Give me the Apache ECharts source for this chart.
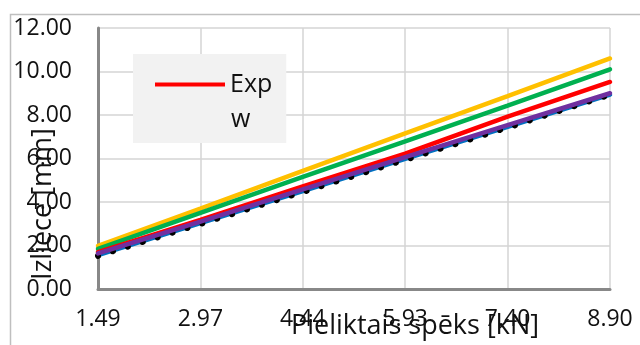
<!DOCTYPE html>
<html>
<head>
<meta charset="utf-8">
<script src="https://cdn.jsdelivr.net/npm/echarts@6/dist/echarts.min.js"></script>
<style>
html,body{margin:0;padding:0;background:#fff;}
#c{width:640px;height:345px;}
</style>
</head>
<body>
<div id="c"></div>
<script>
const categories = ['1.49', '2.97', '4.44', '5.93', '7.40', '8.90'];
const yTicks = [0, 2, 4, 6, 8, 10, 12];
const yellowVals = [1.98, 3.70, 5.43, 7.15, 8.87, 10.60];
const greenVals  = [1.84, 3.50, 5.15, 6.79, 8.43, 10.10];
const redVals    = [1.70, 3.18, 4.72, 6.22, 7.93, 9.52];
const blueVals   = [1.56, 3.03, 4.50, 5.98, 7.46, 8.94];
const blackVals  = [1.52, 2.99, 4.46, 5.94, 7.42, 8.93];
const purpleVals = [1.64, 3.10, 4.58, 6.06, 7.53, 9.00];
const xTitle = 'Pieliktais spēks [kN]';
const yTitle = 'Izliece [mm]';
const legendName = 'Exp';
const legendExtra = 'w';

const FONT = 'Open Sans';
const chart = echarts.init(document.getElementById('c'));
function line(name, data, color, width, z, type) {
  return {
    name, type: 'line', data, symbol: 'none', z,
    lineStyle: { color, width, type: type || 'solid', cap: 'round' },
    itemStyle: { color },
    animation: false
  };
}
chart.setOption({
  animation: false,
  backgroundColor: '#fff',
  grid: { left: 98, right: 30, top: 28, bottom: 56 },
  xAxis: {
    type: 'category', data: categories, boundaryGap: false,
    axisLine: { show: true, lineStyle: { color: '#888', width: 3 } },
    axisTick: { show: false },
    axisLabel: { interval: 0, fontFamily: FONT, fontSize: 23, color: '#111', margin: 19 },
    splitLine: { show: true, lineStyle: { color: '#d4d4d4', width: 1.5 } }
  },
  yAxis: {
    type: 'value', min: yTicks[0], max: yTicks[yTicks.length - 1], interval: 2,
    axisLine: { show: true, lineStyle: { color: '#888', width: 3 } },
    axisTick: { show: false },
    axisLabel: { fontFamily: FONT, fontSize: 23, color: '#111', margin: 26, formatter: v => v.toFixed(2) },
    splitLine: { show: true, lineStyle: { color: '#d4d4d4', width: 1.5 } }
  },
  legend: {
    data: [legendName], left: 133, top: 54,
    backgroundColor: '#f2f2f2',
    padding: [18, 14, 46, 22],
    itemWidth: 70, itemHeight: 4, itemGap: 6,
    icon: 'rect',
    textStyle: { fontFamily: FONT, fontSize: 25, color: '#111' }
  },
  graphic: [
    { type: 'rect', left: 8, top: 12, shape: { width: 700, height: 400 }, style: { fill: 'none', stroke: '#bfbfbf', lineWidth: 1.5 }, z: -10, silent: true },
    { type: 'text', left: 231, top: 107, style: { text: legendExtra, font: '25px "Open Sans"', fill: '#111' }, z: 100 },
    { type: 'text', x: 415, y: 326, style: { text: xTitle, font: '27px "Open Sans"', fill: '#111', align: 'center', verticalAlign: 'middle' }, z: 100 },
    { type: 'text', x: 43, y: 204, rotation: Math.PI / 2, style: { text: yTitle, font: '27px "Open Sans"', fill: '#111', align: 'center', verticalAlign: 'middle' }, z: 100 }
  ],
  series: [
    line('Y', yellowVals, '#FFC000', 4.5, 2),
    line('G', greenVals, '#00B050', 4.5, 3),
    line(legendName, redVals, '#FF0000', 4.5, 4),
    line('B', blueVals, '#0070C0', 4.5, 5),
    line('K', blackVals, '#000000', 6, 6, [0.1, 15.5]),
    line('P', purpleVals, '#7030A0', 4.5, 7)
  ]
});
</script>
</body>
</html>
